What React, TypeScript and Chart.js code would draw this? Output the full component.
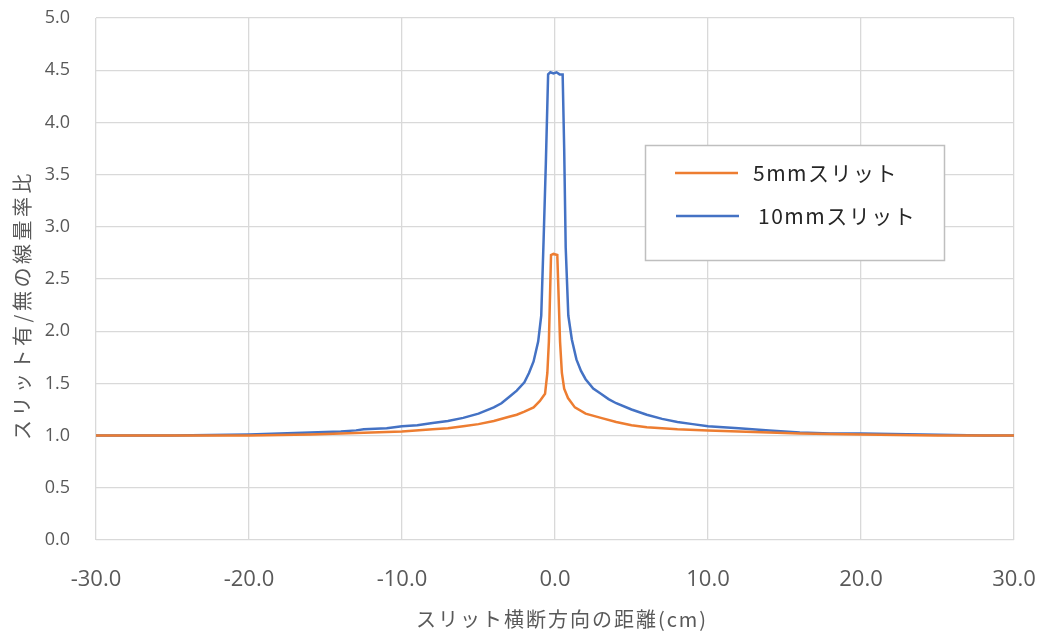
import React, { useEffect, useRef } from "react";
import { Chart, registerables } from "chart.js";

Chart.register(...registerables);

const distance5 = [-30, -25, -20, -16, -14, -12, -10, -8, -7, -6, -5, -4, -3, -2.5, -2, -1.4, -1.0, -0.65, -0.5, -0.4, -0.26, -0.1, 0.15, 0.33, 0.45, 0.6, 0.85, 1.3, 2, 3, 4, 5, 6, 7, 8, 10, 12, 14, 16, 20, 25, 30];
const ratio5 = [1.0, 1.0, 1.0, 1.01, 1.02, 1.03, 1.04, 1.06, 1.07, 1.09, 1.11, 1.14, 1.18, 1.2, 1.23, 1.27, 1.33, 1.4, 1.6, 1.9, 2.73, 2.74, 2.73, 1.9, 1.6, 1.45, 1.36, 1.27, 1.21, 1.17, 1.13, 1.1, 1.08, 1.07, 1.06, 1.05, 1.04, 1.03, 1.02, 1.01, 1.0, 1.0];

const distance10 = [-30, -25, -20, -18, -16, -14, -13, -12.5, -11, -10, -9, -8, -7, -6, -5, -4, -3.5, -3, -2.5, -2, -1.7, -1.4, -1.1, -0.9, -0.75, -0.6, -0.45, -0.3, -0.1, 0.1, 0.3, 0.5, 0.6, 0.7, 0.87, 1.1, 1.4, 1.7, 2.0, 2.5, 3.0, 3.5, 4, 5, 6, 7, 8, 9, 10, 12, 14, 16, 18, 20, 24, 28, 30];
const ratio10 = [1.0, 1.0, 1.01, 1.02, 1.03, 1.04, 1.05, 1.06, 1.07, 1.09, 1.1, 1.12, 1.14, 1.17, 1.21, 1.27, 1.31, 1.37, 1.43, 1.51, 1.6, 1.71, 1.9, 2.15, 2.85, 3.6, 4.46, 4.48, 4.47, 4.48, 4.46, 4.46, 3.75, 2.8, 2.15, 1.92, 1.73, 1.62, 1.54, 1.45, 1.4, 1.35, 1.31, 1.25, 1.2, 1.16, 1.13, 1.11, 1.09, 1.07, 1.05, 1.03, 1.02, 1.02, 1.01, 1.0, 1.0];

const seriesNames = ["5mmスリット", "10mmスリット"];
const seriesColors = ["#ED7D31", "#4472C4"];
const xTitle = "スリット横断方向の距離(cm)";
const yTitle = "スリット有/無の線量率比";

const CJK = "'Noto Sans CJK JP', sans-serif";

const decorPlugin = {
  id: "decor",
  afterDraw(chart: any) {
    const { ctx } = chart;
    ctx.save();
    // axis titles
    ctx.fillStyle = "#595959";
    ctx.textAlign = "center";
    ctx.textBaseline = "middle";
    ctx.font = `20px ${CJK}`;
    (ctx as any).letterSpacing = "2px";
    ctx.fillText(xTitle, 562, 619);
    ctx.save();
    ctx.translate(22, 305);
    ctx.rotate(-Math.PI / 2);
    (ctx as any).letterSpacing = "3.5px";
    ctx.fillText(yTitle, 0, 0);
    ctx.restore();

    // legend box
    const left = 645, top = 145, w = 299, h = 115;
    ctx.fillStyle = "#ffffff";
    ctx.fillRect(left, top, w, h);
    ctx.strokeStyle = "#bfbfbf";
    ctx.lineWidth = 1.5;
    ctx.strokeRect(left + 0.5, top + 0.5, w, h);
    const rows = [
      { y: 173, lx: 675, tx: 753 },
      { y: 216, lx: 676, tx: 758 },
    ];
    rows.forEach((r, i) => {
      ctx.strokeStyle = seriesColors[i];
      ctx.lineWidth = 2.5;
      ctx.beginPath();
      ctx.moveTo(r.lx, r.y);
      ctx.lineTo(r.lx + 63, r.y);
      ctx.stroke();
      ctx.fillStyle = "#262626";
      ctx.font = `21px ${CJK}`;
      ctx.textBaseline = "middle";
      ctx.textAlign = "left";
      (ctx as any).letterSpacing = "1.5px";
      ctx.fillText(seriesNames[i], r.tx, r.y);
    });
    ctx.restore();
  },
};

export default function App() {
  const ref = useRef<HTMLCanvasElement>(null);
  useEffect(() => {
    document.body.style.margin = "0";
    const canvas = ref.current!;
    const chart = new Chart(canvas, {
      type: "line",
      data: {
        datasets: [
          {
            label: seriesNames[0],
            data: distance5.map((x, i) => ({ x, y: ratio5[i] })),
            borderColor: seriesColors[0],
            borderWidth: 2.5,
            pointRadius: 0,
            tension: 0,
            fill: false,
          },
          {
            label: seriesNames[1],
            data: distance10.map((x, i) => ({ x, y: ratio10[i] })),
            borderColor: seriesColors[1],
            borderWidth: 2.5,
            pointRadius: 0,
            tension: 0,
            fill: false,
          },
        ],
      },
      options: {
        animation: false,
        responsive: false,
        layout: { padding: { top: 18, right: 28, left: 0, bottom: 0 } },
        plugins: { legend: { display: false }, tooltip: { enabled: false } },
        scales: {
          x: {
            type: "linear",
            min: -30,
            max: 30,
            afterFit(scale: any) {
              scale.height = 97;
              scale.paddingLeft = 0;
              scale.paddingRight = 0;
            },
            ticks: {
              stepSize: 10,
              padding: 27,
              color: "#595959",
              font: { family: "'Open Sans', 'Noto Sans', sans-serif", size: 22 },
              callback: (v: any) => Number(v).toFixed(1),
              maxRotation: 0,
            },
            grid: { color: "#d9d9d9", lineWidth: 1.3, drawTicks: false },
            border: { display: false },
          },
          y: {
            type: "linear",
            min: 0,
            max: 5,
            afterFit(scale: any) {
              scale.width = 96;
              scale.paddingTop = 0;
              scale.paddingBottom = 0;
            },
            ticks: {
              stepSize: 0.5,
              padding: 26,
              color: "#595959",
              font: { family: "'Open Sans', 'Noto Sans', sans-serif", size: 18 },
              callback: (v: any) => Number(v).toFixed(1),
            },
            grid: { color: "#d9d9d9", lineWidth: 1.3, drawTicks: false },
            border: { display: false },
          },
        },
      },
      plugins: [decorPlugin],
    });
    return () => chart.destroy();
  }, []);
  return (
    <div style={{ position: "fixed", left: 0, top: 0, width: 1042, height: 637, background: "#fff" }}>
      <canvas ref={ref} width={1042} height={637} />
    </div>
  );
}
